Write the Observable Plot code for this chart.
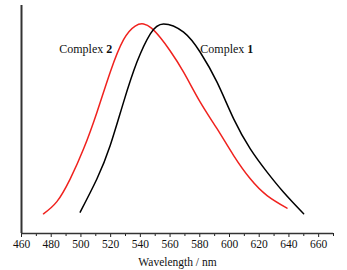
<!DOCTYPE html>
<html><head><meta charset="utf-8">
<script src="https://cdn.jsdelivr.net/npm/d3@7"></script>
<script src="https://cdn.jsdelivr.net/npm/@observablehq/plot@0.6"></script>
<style>body{margin:0;background:#fff}</style>
</head><body><div id="chart"></div>
<script>
// Complex 1 (black)
const wl1  = [499.5, 510.8, 519.7, 528.7, 537.7, 546.7, 555.6, 569.1, 580.3, 591.6, 602.8, 614.0, 625.3, 636.4, 649.9];
const int1 = [0.102, 0.261, 0.420, 0.627, 0.818, 0.953, 1.0, 0.961, 0.865, 0.722, 0.547, 0.404, 0.293, 0.197, 0.094];
// Complex 2 (red)
const wl2  = [474.8, 483.8, 492.8, 501.8, 510.8, 519.7, 528.7, 536.5, 542.2, 547.5, 553.4, 560.0, 569.1, 580.3, 591.6, 602.8, 614.0, 625.3, 638.7];
const int2 = [0.094, 0.152, 0.261, 0.404, 0.579, 0.770, 0.925, 0.99, 1.0, 0.98, 0.935, 0.872, 0.770, 0.627, 0.500, 0.372, 0.261, 0.181, 0.121];
// annotations
const labelNames = ["Complex", "Complex"];
const labelNums = ["2", "1"];
const labelX = [515, 610];
const labelY = [0.878, 0.878];
const majorTicks = [460, 480, 500, 520, 540, 560, 580, 600, 620, 640, 660];
const minorTicks = [470, 490, 510, 530, 550, 570, 590, 610, 630, 650, 670];

const s1 = wl1.map((w, i) => ({w, v: int1[i]}));
const s2 = wl2.map((w, i) => ({w, v: int2[i]}));
const labels = labelX.map((x, i) => ({x, y: labelY[i], name: labelNames[i], num: labelNums[i]}));

const chart = Plot.plot({
  width: 347, height: 270,
  marginLeft: 21, marginRight: 14, marginTop: 5, marginBottom: 37,
  style: {fontFamily: "'Liberation Serif', 'Times New Roman', serif", fontSize: "11.5px", color: "#111", background: "#fff"},
  x: {domain: [460, 670]},
  y: {domain: [0, 1.088], axis: null},
  marks: [
    Plot.axisX(minorTicks, {tickSize: 3, tickFormat: () => "", stroke: "#222", label: null}),
    Plot.axisX(majorTicks, {tickSize: 4, tickPadding: 2, stroke: "#222", fontSize: 11.5,
      label: "Wavelength / nm", labelAnchor: "center", labelArrow: "none", labelOffset: 32}),
    Plot.ruleY([0], {stroke: "#333", strokeWidth: 1.5}),
    Plot.ruleX([460], {stroke: "#333", strokeWidth: 2}),
    Plot.line(s2, {x: "w", y: "v", stroke: "#f0221e", strokeWidth: 1.5, curve: "natural"}),
    Plot.line(s1, {x: "w", y: "v", stroke: "#000", strokeWidth: 1.5, curve: "natural"}),
    Plot.text(labels, {x: "x", y: "y", text: "name", textAnchor: "end", fontSize: 12, fill: "#111"}),
    Plot.text(labels, {x: "x", y: "y", text: "num", textAnchor: "start", dx: 3, fontSize: 12, fontWeight: "bold", fill: "#111"})
  ]
});
document.getElementById("chart").append(chart);
</script>
</body></html>
